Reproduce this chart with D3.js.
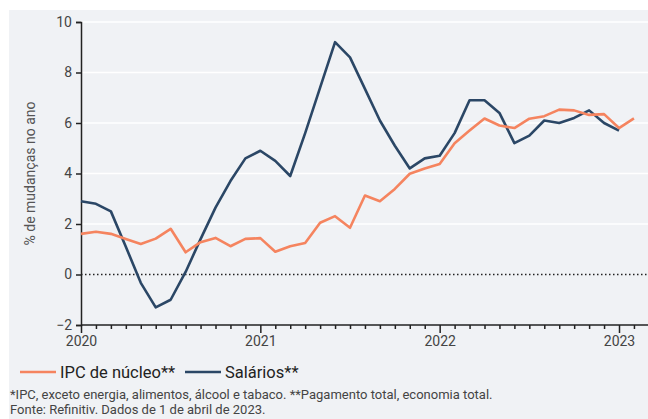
<html>
<script src='https://d3js.org/d3.v7.min.js'></script>
<style>
body {margin:0; background:#fff;}
text {font-family: Roboto, 'Noto Sans', sans-serif;}
</style>
<body onload='init()'>
<svg width=648 height=419></svg>
<script>
// monthly, starting Jan 2020
var ipc = [1.61,1.69,1.61,1.41,1.21,1.42,1.81,0.88,1.28,1.45,1.12,1.41,
           1.44,0.9,1.12,1.25,2.05,2.31,1.85,3.13,2.9,3.39,3.99,4.2,
           4.38,5.2,5.7,6.18,5.9,5.8,6.17,6.27,6.53,6.5,6.32,6.35,
           5.8,6.18];
var salarios = [2.9,2.8,2.5,1.1,-0.33,-1.3,-1.0,0.1,1.4,2.65,3.7,4.6,
                4.9,4.5,3.9,5.6,7.4,9.2,8.6,7.35,6.1,5.1,4.2,4.6,
                4.7,5.6,6.9,6.9,6.4,5.2,5.5,6.1,6.0,6.2,6.5,6.0,
                5.7];
var yTicks = [-2,0,2,4,6,8,10];
var xTickYears = [2020,2021,2022,2023];
var seriesNames = ['IPC de núcleo**','Salários**'];
var seriesColors = ['#f5845f','#2b4766'];
var footnotes = ['*IPC, exceto energia, alimentos, álcool e tabaco. **Pagamento total, economia total.',
                 'Fonte: Refinitiv. Dados de 1 de abril de 2023.'];

function init() {
var svg = d3.select('svg');
svg.append('rect').attr('x',9).attr('y',10).attr('width',639).attr('height',409).attr('fill','#f0f2f5');

var x0 = 81, x1 = 648;
var xScale = d3.scaleLinear().domain([0,36]).range([81,619]);
var yScale = d3.scaleLinear().domain([-2,10]).range([325,22]);

// grid
svg.append('g').selectAll('line').data(yTicks.filter(function(d){return d!==0 && d!==-2;}))
  .enter().append('line')
  .attr('x1',x0).attr('x2',x1)
  .attr('y1',function(d){return yScale(d);}).attr('y2',function(d){return yScale(d);})
  .attr('stroke','#fff').attr('stroke-width',1.5);

// zero line
svg.append('line').attr('x1',x0).attr('x2',x1)
  .attr('y1',yScale(0)).attr('y2',yScale(0))
  .attr('stroke','#222').attr('stroke-width',1.5).attr('stroke-dasharray','1.5,2.5');

// y axis
var yAxis = svg.append('g').attr('transform','translate('+x0+',0)')
  .call(d3.axisLeft(yScale).tickValues(yTicks).tickSize(5).tickPadding(4).tickFormat(d3.format('d')));
yAxis.select('.domain').attr('stroke','#222').attr('stroke-width',1.5);
yAxis.selectAll('line').attr('stroke','#222').attr('stroke-width',1.5);
yAxis.selectAll('text').attr('font-size',14).attr('fill','#444');

// x axis
var monthTicks = d3.range(0,38);
var xAxis = svg.append('g').attr('transform','translate(0,'+yScale(-2)+')')
  .call(d3.axisBottom(xScale).tickValues(monthTicks).tickSizeOuter(0)
    .tickSize(4).tickFormat(function(d){return d%12===0 ? String(xTickYears[d/12]) : '';}));
xAxis.select('.domain').attr('d','M'+x0+',0H'+x1).attr('stroke','#222').attr('stroke-width',1.5);
xAxis.selectAll('.tick line').attr('stroke','#222').attr('stroke-width',1.5)
  .attr('y2',function(d){return d%12===0 ? 8 : 4;});
xAxis.selectAll('text').attr('font-size',14).attr('fill','#444').attr('dy','0.71em').attr('y',11);

// y label
svg.append('text').attr('transform','translate(35,'+yScale(4)+') rotate(-90)')
  .attr('text-anchor','middle').attr('font-size',14).attr('fill','#555')
  .text('% de mudanças no ano');

var line = d3.line().x(function(d,i){return xScale(i);}).y(function(d){return yScale(d);});
[salarios, ipc].forEach(function(s){
  svg.append('path').datum(s).attr('d',line).attr('fill','none')
    .attr('stroke', s===ipc ? seriesColors[0] : seriesColors[1])
    .attr('stroke-width',2.6).attr('stroke-linejoin','round');
});

// legend
var lx = [20,185];
seriesNames.forEach(function(n,i){
  svg.append('line').attr('x1',lx[i]).attr('x2',lx[i]+36).attr('y1',372).attr('y2',372)
    .attr('stroke',seriesColors[i]).attr('stroke-width',2.6);
  svg.append('text').attr('x',lx[i]+40).attr('y',378).attr('font-size',16.5).attr('fill','#222').text(n);
});

footnotes.forEach(function(f,i){
  svg.append('text').attr('x',10).attr('y',399+i*15).attr('font-size',13).attr('fill','#444').text(f);
});
}
</script>
</body>
</html>
